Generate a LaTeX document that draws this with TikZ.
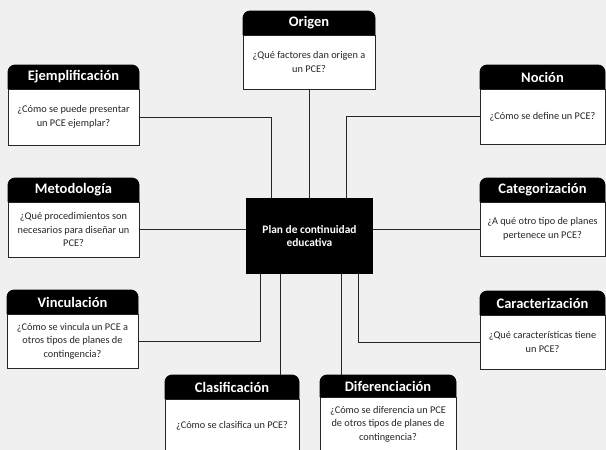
\documentclass[tikz,border=0pt]{standalone}
\usepackage{fontspec}
\setmainfont{Carlito}
\usetikzlibrary{calc}

\begin{document}
\begin{tikzpicture}[x=1pt,y=-1pt,
    topicbody/.style={draw=black!85,fill=white,line width=0.8pt,inner sep=0pt,outer sep=0pt,
      align=center,text=black!85,font=\fontsize{10.3}{13.5}\selectfont},
    topicbar/.style={fill=black,draw=black,line width=0.8pt,rounded corners=7pt},
    topichead/.style={text=white,inner sep=0pt,font=\bfseries\fontsize{14.5}{16}\selectfont},
    link/.style={draw=black!85,line width=1pt}]
    \useasboundingbox (0,0) rectangle (606,450);
    \fill[black!6] (0,0) rectangle (606,450);

    % topics
    \node[topicbody,minimum width=132pt,minimum height=54pt] (origen) at (309,62) {¿Qué factores dan origen a\\un PCE?};
    \node[topicbody,minimum width=131pt,minimum height=56pt] (ejem) at (73.5,117) {¿Cómo se puede presentar\\un PCE ejemplar?};
    \node[topicbody,minimum width=125pt,minimum height=55pt] (nocion) at (542.5,116.5) {¿Cómo se define un PCE?};
    \node[topicbody,minimum width=131pt,minimum height=55pt] (metod) at (73.5,229.5) {¿Qué procedimientos son\\necesarios para diseñar un\\PCE?};
    \node[topicbody,minimum width=125pt,minimum height=54pt] (categ) at (542.5,229) {¿A qué otro tipo de planes\\pertenece un PCE?};
    \node[topicbody,minimum width=131pt,minimum height=54pt] (vinc) at (72.5,341) {¿Cómo se vincula un PCE a\\otros tipos de planes de\\contingencia?};
    \node[topicbody,minimum width=125pt,minimum height=54pt] (carac) at (542.5,342) {¿Qué características tiene\\un PCE?};
    \node[topicbody,minimum width=134pt,minimum height=54pt] (clasif) at (232,426) {¿Cómo se clasifica un PCE?};
    \node[topicbody,minimum width=136pt,minimum height=54pt] (difer) at (388,424) {¿Cómo se diferencia un PCE\\de otros tipos de planes de\\contingencia?};

    \foreach \n/\t in {origen/Origen,ejem/Ejemplificación,nocion/Noción,metod/Metodología,
        categ/Categorización,vinc/Vinculación,carac/Caracterización,clasif/Clasificación} {
      \filldraw[topicbar] (\n.north west) -- ++(0,-24) -| (\n.north east);
      \node[topichead] (\n-t) at ($(\n.north)+(0,-12)$) {\t};
      \coordinate (\n-top) at ($(\n.north)+(0,-24)$);
    }
    % diferenciacion has a shorter body
    \filldraw[topicbar] (difer.north west) -- ++(0,-22) -| (difer.north east);
    \node[topichead] (difer-t) at ($(difer.north)+(0,-11)$) {Diferenciación};
    \coordinate (difer-top) at ($(difer.north)+(0,-22)$);

    % centre
    \node[fill=black,text=white,inner sep=0pt,outer sep=0pt,align=center,
      minimum width=127pt,minimum height=76pt,font=\bfseries\fontsize{11.4}{13.5}\selectfont]
      (plan) at (309.5,236) {Plan de continuidad\\educativa};

    \coordinate (t1) at ($(plan.north west)+(25,0)$);
    \coordinate (t2) at ($(plan.north west)+(100,0)$);
    \coordinate (b1) at ($(plan.south west)+(14,0)$);
    \coordinate (b2) at ($(plan.south west)+(34,0)$);
    \coordinate (b3) at ($(plan.south west)+(95,0)$);
    \coordinate (b4) at ($(plan.south west)+(112,0)$);

    \draw[link] (origen.south) -- (origen.south |- plan.north);
    \draw[link] (ejem.east) -| (t1);
    \draw[link] (nocion.west) -| (t2);
    \draw[link] (metod.east) -- (metod.east -| plan.west);
    \draw[link] (categ.west) -- (categ.west -| plan.east);
    \draw[link] (vinc.east) -| (b1);
    \draw[link] (b2) -- (b2 |- clasif-top);
    \draw[link] (b3) -- (b3 |- difer-top);
    \draw[link] (carac.west) -| (b4);
  \end{tikzpicture}
\end{document}
